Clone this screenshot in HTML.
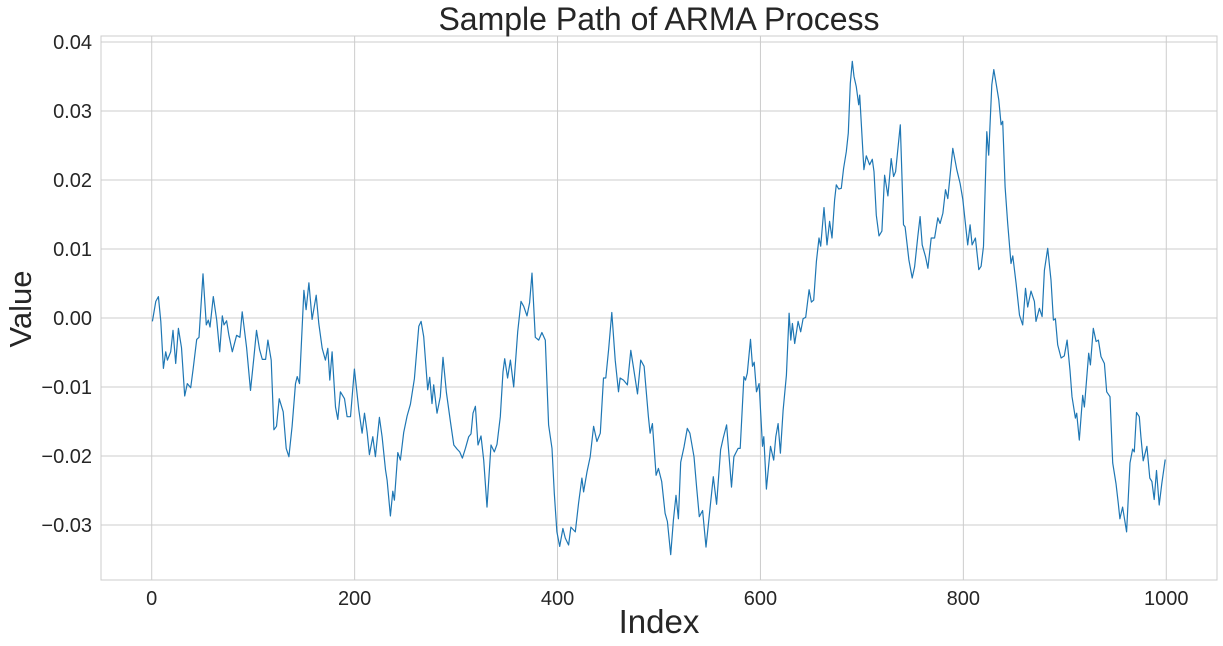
<!DOCTYPE html>
<html><head><meta charset="utf-8"><style>
body{margin:0;background:#fff;}
svg{display:block;font-family:"Liberation Sans",sans-serif;}
</style></head><body>
<svg id="chart" width="1223" height="646" viewBox="0 0 1223 646" xmlns="http://www.w3.org/2000/svg">
<rect width="1223" height="646" fill="#fff"/>
<g id="grid"></g>
<rect x="101" y="36" width="1116" height="544" fill="none" stroke="#cccccc" stroke-width="1"/>
<g id="ticks"></g>
<path id="line" fill="none" stroke="#1f77b4" stroke-width="1.2" stroke-linejoin="round"/>
<text x="659" y="30" text-anchor="middle" font-size="32" fill="#262626">Sample Path of ARMA Process</text>
<text x="659" y="633" text-anchor="middle" font-size="33" fill="#262626">Index</text>
<text transform="translate(31,309) rotate(-90)" text-anchor="middle" font-size="31" fill="#262626">Value</text>
</svg>
<script>
const xTicks=[0,200,400,600,800,1000];
const yTicks=[-0.03,-0.02,-0.01,0.00,0.01,0.02,0.03,0.04];
const yTickLabels=["\u22120.03","\u22120.02","\u22120.01","0.00","0.01","0.02","0.03","0.04"];
const idx=[0.7,4,6.6,8.9,11.5,13.8,15.4,18.7,21,23.6,26.3,29.3,32.5,35.1,38.4,41,44.3,46.6,50.5,53.8,55.8,57.4,60.7,64,67,69.6,71.2,73.8,76.1,79.4,83.7,86.9,89.2,93.5,97.4,100.7,103.3,106.3,109,112.2,114.5,117.8,120.4,123,125.6,129.6,132.5,135.2,138.4,141.7,143.4,145.7,150,152.2,154.9,158.1,162.1,164.7,168,171.2,173.5,175.5,177.8,181.1,183.4,186,190,192.6,195.9,199.8,204.1,207.4,209.7,212.3,214.6,217.9,220.5,224.4,227.1,230.4,232,235.3,237.6,239.2,242.5,245.1,248.4,251.7,255,258.9,263.2,265.5,268.1,272,274,276.3,277.9,281.2,284.4,287.1,290.4,294.4,297.7,301,303.6,306.2,309.2,312.4,314.7,316.7,319,321.6,324.6,327.2,330.5,334.4,337.7,340.3,343.6,346.2,347.9,350.8,353.5,356.8,360.7,364,366.6,369.9,372.5,374.8,378.1,381.4,384.6,387.9,391.2,394.5,396.8,399.4,402.1,405.3,407.6,410.9,413.2,417.5,420.8,424,425.7,429,432.2,435.5,438.8,442.1,445.3,447.6,450.3,453.5,456.8,460.1,461.7,465,468.9,472.2,474.8,478.8,482,485.3,489.6,491.2,493.5,497.1,499.4,502.7,506,508.3,511.5,514.2,516.8,519.1,521.4,524.6,527.9,530.5,534.5,537.1,539.7,543,546.3,549.6,553.5,556.8,560.7,563.3,566.6,571.5,573.8,578,580,583.7,585.3,587,590.2,592.2,593.8,596.1,598.7,602,603.3,605.9,609.9,613.1,615.1,617.4,619.7,622.3,625.6,628.2,629.9,631.5,633.8,637.1,639.7,642,644.6,647.9,650.2,652.5,655.1,657.7,659.4,662.6,665.6,668.2,670.5,673.1,674.8,677.1,679.7,682,684.6,686.6,688.6,690.5,692.2,694.5,696.8,697.8,702,704.3,707.6,710.2,711.9,714.2,716.8,719.7,722.4,725.6,728.9,731.2,733.2,737.8,741,742.6,746.3,749.6,751.9,755.1,757.4,759.4,762.7,765,768.3,771.6,774.8,777.1,779.8,782.4,784.7,789.6,793.5,796.8,799.4,804.3,806.6,808.6,811.9,815.2,817.5,819.8,823.1,825,828,830,832.3,834.9,837.2,838.8,841.1,843.7,847,848.7,852,855.3,858.5,861.2,863.4,866.7,870,871.6,874.9,877.6,879.9,883.1,886.4,888.7,890.7,893,896.3,899.5,902.2,905.1,907.1,910.4,911.7,914.3,917.6,919.3,923.5,925.2,928.1,930.8,933.1,935.7,939,941.3,944.5,947.2,950.4,952.7,954.3,957,960.9,964.2,966.8,968.5,970.7,973.4,975,977.3,980.9,983.8,985.8,988.1,990.4,993,995.6,998.9];
const vals=[-0.0005,0.0024,0.0031,-0.0005,-0.0073,-0.0049,-0.0061,-0.0049,-0.0018,-0.0066,-0.0015,-0.0043,-0.0113,-0.0095,-0.0101,-0.0072,-0.0031,-0.0028,0.0064,-0.001,-0.0003,-0.0013,0.0031,-0.0003,-0.0049,0.0003,-0.001,-0.0004,-0.0025,-0.0049,-0.0025,-0.0028,0.0009,-0.0043,-0.0105,-0.0057,-0.0018,-0.0046,-0.006,-0.006,-0.0032,-0.0061,-0.0162,-0.0157,-0.0117,-0.0136,-0.0189,-0.0201,-0.0157,-0.0095,-0.0085,-0.0095,0.004,0.0012,0.0051,-0.0002,0.0033,-0.0008,-0.0044,-0.0061,-0.0044,-0.009,-0.0049,-0.0129,-0.0147,-0.0107,-0.0117,-0.0143,-0.0143,-0.0074,-0.0133,-0.0167,-0.0138,-0.0165,-0.0198,-0.0172,-0.0201,-0.0144,-0.0172,-0.022,-0.0235,-0.0287,-0.0251,-0.0264,-0.0195,-0.0206,-0.0166,-0.0142,-0.0125,-0.0088,-0.0012,-0.0005,-0.0027,-0.0104,-0.0086,-0.0124,-0.0097,-0.0138,-0.0114,-0.0057,-0.0108,-0.015,-0.0184,-0.019,-0.0194,-0.0203,-0.0189,-0.0172,-0.0168,-0.0138,-0.0128,-0.0184,-0.0171,-0.0206,-0.0274,-0.0184,-0.0194,-0.0183,-0.0143,-0.0078,-0.0059,-0.0087,-0.0061,-0.01,-0.002,0.0024,0.0017,0.0003,0.0022,0.0065,-0.0028,-0.0032,-0.0021,-0.0032,-0.0155,-0.0189,-0.0254,-0.031,-0.0331,-0.0305,-0.0319,-0.0329,-0.0303,-0.031,-0.0268,-0.0232,-0.0252,-0.0223,-0.0201,-0.0157,-0.0179,-0.0167,-0.0087,-0.0087,-0.0046,0.0008,-0.0061,-0.0107,-0.0087,-0.009,-0.0097,-0.0047,-0.0071,-0.011,-0.0061,-0.007,-0.0143,-0.0167,-0.0153,-0.0228,-0.0218,-0.0237,-0.0283,-0.0295,-0.0343,-0.0293,-0.0257,-0.0291,-0.0209,-0.0187,-0.016,-0.0167,-0.0201,-0.0245,-0.0288,-0.0279,-0.0332,-0.0286,-0.023,-0.027,-0.0191,-0.0174,-0.0155,-0.0245,-0.0201,-0.0189,-0.0189,-0.0085,-0.009,-0.008,-0.0031,-0.007,-0.0064,-0.0107,-0.0095,-0.0186,-0.0172,-0.0248,-0.0186,-0.0206,-0.0172,-0.0153,-0.0196,-0.0134,-0.0083,0.0007,-0.0032,-0.0008,-0.0037,-0.0005,-0.002,-0.0001,0.0001,0.0041,0.0023,0.0026,0.0082,0.0116,0.0104,0.016,0.0106,0.014,0.0116,0.0171,0.0193,0.0187,0.0188,0.0217,0.0241,0.0268,0.034,0.0372,0.035,0.0335,0.0309,0.0323,0.0215,0.0235,0.0222,0.023,0.0212,0.0149,0.0119,0.0126,0.0207,0.0177,0.0231,0.0205,0.0212,0.028,0.0135,0.0132,0.0084,0.0058,0.0074,0.0118,0.0147,0.0106,0.0089,0.0072,0.0116,0.0116,0.0145,0.0137,0.0152,0.0186,0.0173,0.0246,0.0215,0.0195,0.0172,0.0106,0.0135,0.0106,0.0116,0.007,0.0075,0.0104,0.027,0.0236,0.0338,0.036,0.034,0.0316,0.028,0.0285,0.019,0.0137,0.0079,0.009,0.005,0.0004,-0.001,0.0043,0.0016,0.0039,0.0024,-0.0005,0.0014,0.0002,0.0069,0.0101,0.0055,-0.0003,-0.0001,-0.0039,-0.0058,-0.0055,-0.0032,-0.0076,-0.0114,-0.0145,-0.0138,-0.0177,-0.0112,-0.0129,-0.0051,-0.0068,-0.0015,-0.0034,-0.0032,-0.0056,-0.0066,-0.0107,-0.0114,-0.021,-0.024,-0.0269,-0.0291,-0.0274,-0.031,-0.021,-0.019,-0.0194,-0.0137,-0.0143,-0.0172,-0.0207,-0.0186,-0.0232,-0.0237,-0.0263,-0.0221,-0.0271,-0.024,-0.0205];

const L=101,R=1217,T=36,B=580;
function xs(i){return L+(i+50)/1100*(R-L);}
function ys(v){return 318-v*6900;}
const NS="http://www.w3.org/2000/svg";
const grid=document.getElementById('grid'),ticks=document.getElementById('ticks');
xTicks.forEach(t=>{
  const l=document.createElementNS(NS,'line');
  
  
  l.setAttribute('x1',xs(t));l.setAttribute('x2',xs(t));l.setAttribute('y1',T);l.setAttribute('y2',B);
  l.setAttribute('stroke','#cccccc');l.setAttribute('stroke-width','1');grid.appendChild(l);
  const s=document.createElementNS(NS,'text');
  
  
  s.setAttribute('x',xs(t));s.setAttribute('y',605);s.setAttribute('text-anchor','middle');
  s.setAttribute('font-size','20');s.setAttribute('fill','#262626');s.textContent=t;ticks.appendChild(s);
});
yTicks.forEach((t,k)=>{
  const l=document.createElementNS(NS,'line');
  
  
  l.setAttribute('x1',L);l.setAttribute('x2',R);l.setAttribute('y1',ys(t));l.setAttribute('y2',ys(t));
  l.setAttribute('stroke','#cccccc');l.setAttribute('stroke-width','1');grid.appendChild(l);
  const s=document.createElementNS(NS,'text');
  
  
  s.setAttribute('x',92);s.setAttribute('y',ys(t)+7);s.setAttribute('text-anchor','end');
  s.setAttribute('font-size','20');s.setAttribute('fill','#262626');s.textContent=yTickLabels[k];ticks.appendChild(s);
});
let d='';
idx.forEach((i,k)=>{d+=(k?'L':'M')+xs(i).toFixed(1)+','+ys(vals[k]).toFixed(1);});
document.getElementById('line').setAttribute('d',d);
</script>
</body></html>
